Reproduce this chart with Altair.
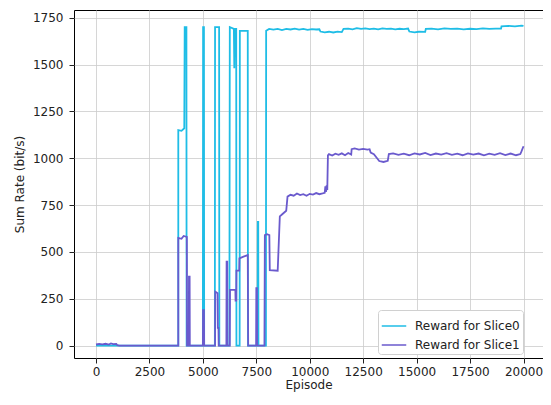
import altair as alt
import pandas as pd

series_names = ["Reward for Slice0", "Reward for Slice1"]
series_colors = ["#1fbde6", "#6a5acd"]
x_ticks = [0, 2500, 5000, 7500, 10000, 12500, 15000, 17500, 20000]
y_ticks = [0, 250, 500, 750, 1000, 1250, 1500, 1750]

slice0_ep = [0, 3850, 3850, 4000, 4130, 4150, 4230, 4240, 5000, 5010, 5050, 5060,
             5560, 5570, 5760, 5770, 6240, 6260, 6450, 6470, 6490, 6560, 6570,
             6720, 6730, 7100, 7110, 7560, 7570, 7590, 7600, 7950, 7960,
             8100, 8300, 8500, 8700, 8900, 9100, 9300, 9500, 9700, 9900, 10100,
             10300, 10450, 10500, 10700, 10900, 11100, 11300, 11500, 11580, 11800,
             12000, 12200, 12400, 12600, 12800, 13000, 13200, 13400, 13600, 13800,
             14000, 14200, 14400, 14600, 14660, 14900, 15100, 15400, 15430, 15700,
             16000, 16300, 16600, 16900, 17200, 17500, 17800, 18100, 18400, 18700,
             18950, 18970, 19300, 19600, 19900, 20000]
slice0_val = [0, 0, 1150, 1146, 1160, 1700, 1700, 0, 0, 1700, 1700, 0,
              0, 1700, 1700, 0, 0, 1700, 1690, 1480, 1690, 1690, 0,
              0, 1680, 1680, 0, 0, 660, 660, 0, 0, 1680,
              1690, 1686, 1690, 1684, 1690, 1687, 1692, 1686, 1690, 1685, 1689,
              1687, 1688, 1676, 1672, 1675, 1671, 1676, 1673, 1690, 1692,
              1688, 1694, 1690, 1693, 1689, 1692, 1688, 1693, 1690, 1692,
              1688, 1691, 1689, 1692, 1676, 1672, 1675, 1674, 1690, 1692,
              1688, 1693, 1690, 1692, 1688, 1691, 1689, 1693, 1690, 1692,
              1692, 1704, 1706, 1704, 1708, 1706]

slice1_ep = [0, 150, 300, 450, 600, 700, 800, 950, 1000, 1100, 3850, 3850, 4000,
             4100, 4250, 4260, 4340, 4350, 4380, 4390, 5000, 5010, 5050, 5060,
             5570, 5580, 5690, 5700, 5730, 5740, 6100, 6110, 6140, 6150, 6260,
             6270, 6520, 6530, 6560, 6570, 6700, 6710, 6900, 7100, 7120, 7490,
             7500, 7530, 7540, 7880, 7900, 8000, 8110, 8130, 8500, 8600, 8700,
             8900, 8960, 9100, 9250, 9400, 9550, 9700, 9850, 10000, 10150, 10300,
             10450, 10600, 10700, 10730, 10760, 10790, 10820, 10850, 10900, 11050,
             11200, 11350, 11500, 11650, 11800, 11940, 11960, 12100, 12300, 12500,
             12700, 12800, 12850, 13000, 13150, 13250, 13450, 13650, 13700, 13900,
             14150, 14400, 14650, 14900, 15150, 15400, 15650, 15900, 16150, 16400,
             16650, 16900, 17150, 17400, 17650, 17900, 18150, 18400, 18650, 18900,
             19150, 19400, 19650, 19850, 19900, 20000]
slice1_val = [6, 9, 7, 10, 6, 12, 8, 9, 2, 0, 0, 575, 570,
              585, 580, 0, 0, 368, 368, 0, 0, 190, 190, 0,
              0, 288, 280, 95, 95, 0, 0, 448, 448, 0, 0,
              297, 297, 240, 240, 400, 400, 466, 475, 483, 0, 0,
              307, 307, 0, 0, 590, 595, 590, 403, 400, 690, 700,
              720, 795, 805, 800, 812, 803, 808, 800, 810, 806, 814,
              808, 812, 815, 850, 820, 855, 830, 1015, 1022, 1014,
              1024, 1018, 1026, 1016, 1028, 1020, 1048, 1052, 1046, 1050,
              1046, 1048, 1030, 1022, 1000, 985, 980, 986, 1022, 1026,
              1018, 1024, 1016, 1026, 1020, 1028, 1017, 1025, 1019, 1027,
              1018, 1024, 1016, 1026, 1019, 1025, 1015, 1024, 1018, 1027,
              1017, 1025, 1016, 1022, 1035, 1064]

rows = []
for name, eps, vals in [(series_names[0], slice0_ep, slice0_val),
                        (series_names[1], slice1_ep, slice1_val)]:
    for i, (e, v) in enumerate(zip(eps, vals)):
        rows.append({"series": name, "episode": e, "value": v, "idx": i})
df = pd.DataFrame(rows)

chart = alt.Chart(df).mark_line(strokeWidth=1.8).encode(
    x=alt.X("episode:Q",
            scale=alt.Scale(domain=[-1029, 20912], nice=False, zero=False),
            axis=alt.Axis(values=x_ticks, title="Episode", format="d",
                          labelPadding=3, titlePadding=2)),
    y=alt.Y("value:Q",
            scale=alt.Scale(domain=[-66, 1791], nice=False, zero=False),
            axis=alt.Axis(values=y_ticks, title="Sum Rate (bit/s)", format="d",
                          labelPadding=6, titlePadding=6)),
    color=alt.Color("series:N",
                    scale=alt.Scale(domain=series_names, range=series_colors),
                    legend=alt.Legend(title=None, orient="none", legendX=304, legendY=300,
                                      symbolType="stroke", symbolSize=600,
                                      symbolStrokeWidth=1.5, labelFontSize=12,
                                      padding=3, fillColor="white",
                                      strokeColor="#d0d0d0", cornerRadius=3,
                                      rowPadding=0, labelFont="DejaVu Sans",
                                      labelColor="#222222", labelOffset=8)),
    order="idx:Q",
).properties(
    width=469, height=348,
    autosize=alt.AutoSizeParams(type="none"),
    padding={"left": 66, "top": 2, "right": 0, "bottom": 34},
).configure_view(
    stroke="black", strokeWidth=1
).configure_axis(
    domain=False, grid=True, gridColor="#cccccc", gridWidth=0.8,
    tickColor="#222222", tickSize=5, labelFont="DejaVu Sans", labelFontSize=12,
    labelColor="#222222", titleFont="DejaVu Sans", titleFontSize=12,
    titleFontWeight="normal", titleColor="#222222"
)

chart.save("out.html", embed_options={"renderer": "svg", "actions": False})
